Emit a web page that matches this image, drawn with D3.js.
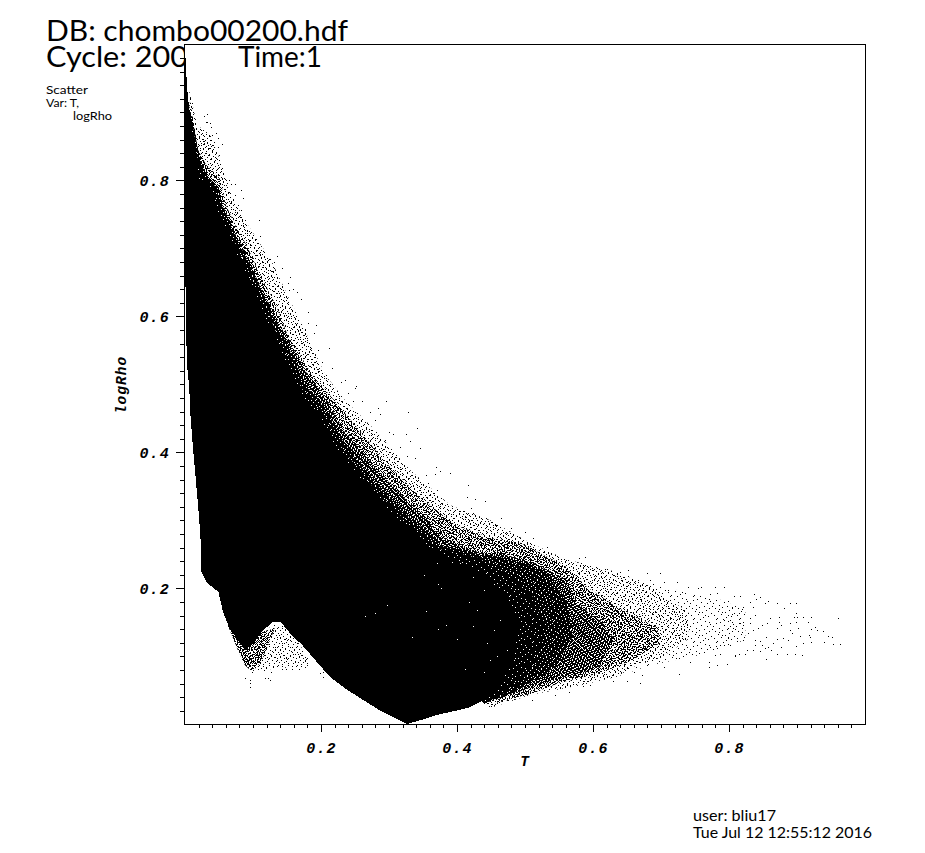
<!DOCTYPE html>
<html><head><meta charset="utf-8">
<script src="https://cdn.jsdelivr.net/npm/d3@7"></script>
<style>html,body{margin:0;background:#fff}svg{display:block}</style>
</head><body><div id="c"></div>
<script>
// Values. The millions of original particles cannot be read one by one:
// the cloud is kept as outlines of its density zones, plus the individually visible points.
const titleLines = ["DB: chombo00200.hdf", "Cycle: 200"];
const timeLabel = "Time:1";
const infoLines = ["Scatter", "Var: T,", "logRho"];
const footerLines = ["user: bliu17", "Tue Jul 12 12:55:12 2016"];
const xName = "T", yName = "logRho";
const majorTicks = [0.2, 0.4, 0.6, 0.8];
const minorTicks = [.02,.04,.06,.08,.1,.12,.14,.16,.18,.22,.24,.26,.28,.3,.32,.34,.36,.38,.42,.44,.46,.48,.5,.52,.54,.56,.58,.62,.64,.66,.68,.7,.72,.74,.76,.78,.82,.84,.86,.88,.9,.92,.94,.96,.98];

// Solid core of the cloud: [T, logRho]
const coreOutline = [[0,.9975],[.0015,.962],[.004,.925],[.007,.899],[.01,.87],[.015,.834],[.019,.8],[.041,.786],[.047,.756],[.062,.727],[.076,.693],[.096,.653],[.115,.605],[.128,.58],[.169,.487],[.199,.452],[.218,.414],[.268,.349],[.316,.3],[.365,.256],[.415,.235],[.45,.215],[.475,.185],[.49,.15],[.485,.1],[.47,.07],[.455,.05],[.434,.033],[.419,.025],[.39,.018],[.375,.015],[.346,.006],[.326,.0004],[.309,.009],[.284,.022],[.257,.039],[.235,.053],[.213,.07],[.191,.095],[.172,.117],[.157,.131],[.141,.15],[.128,.15],[.113,.136],[.099,.117],[.088,.109],[.078,.124],[.065,.142],[.056,.165],[.049,.195],[.032,.208],[.024,.224],[.024,.256],[.021,.3],[.016,.359],[.012,.403],[.008,.455],[.006,.499],[.003,.528],[.002,.565],[.0015,.639],[0,.646]];
// Solid apart from occasional gaps
const deepOutline = [[.008,.9],[.013,.87],[.02,.825],[.045,.79],[.052,.758],[.066,.728],[.08,.694],[.1,.654],[.12,.607],[.133,.58],[.174,.49],[.204,.455],[.223,.417],[.273,.352],[.322,.302],[.372,.258],[.43,.245],[.47,.225],[.51,.19],[.53,.14],[.515,.09],[.49,.06],[.46,.04],[.44,.03],[.169,.33],[.01,.5]];
// Nearly solid zone
const heavyOutline = [[.01,.9],[.018,.85],[.03,.81],[.05,.79],[.056,.76],[.07,.73],[.085,.695],[.105,.655],[.125,.61],[.14,.58],[.18,.495],[.21,.46],[.23,.42],[.28,.355],[.33,.305],[.38,.262],[.43,.25],[.47,.245],[.53,.225],[.56,.18],[.57,.13],[.545,.085],[.51,.062],[.47,.04],[.169,.33],[.01,.5]];
// Heavily speckled zone
const denseOutline = [[.004,.918],[.01,.886],[.016,.852],[.026,.812],[.041,.796],[.054,.771],[.063,.739],[.081,.708],[.099,.671],[.119,.627],[.14,.587],[.176,.521],[.206,.48],[.235,.43],[.284,.374],[.331,.323],[.382,.271],[.434,.252],[.463,.252],[.512,.237],[.562,.212],[.576,.178],[.61,.153],[.629,.128],[.61,.084],[.562,.07],[.512,.055],[.488,.046],[.449,.033],[.169,.33],[.01,.5]];
// Medium speckle
const mediumOutline = [[.007,.918],[.013,.881],[.019,.845],[.031,.823],[.051,.803],[.06,.764],[.074,.734],[.093,.7],[.11,.661],[.132,.62],[.151,.572],[.187,.514],[.213,.484],[.246,.445],[.294,.386],[.346,.334],[.397,.293],[.449,.274],[.493,.267],[.562,.231],[.591,.202],[.635,.172],[.694,.143],[.699,.12],[.659,.095],[.61,.075],[.551,.061],[.512,.046],[.456,.031],[.169,.33],[.01,.5]];
// Light speckle
const lightOutline = [[.006,.933],[.018,.881],[.037,.867],[.054,.823],[.069,.778],[.088,.741],[.107,.712],[.128,.68],[.154,.624],[.176,.58],[.206,.514],[.235,.477],[.279,.433],[.331,.374],[.39,.322],[.449,.3],[.507,.267],[.562,.242],[.625,.227],[.68,.205],[.74,.165],[.74,.125],[.7,.098],[.66,.085],[.635,.07],[.585,.058],[.507,.043],[.449,.024],[.169,.33],[.01,.5]];
// Faint speckle, reaching into the tail
const faintOutline = [[.006,.933],[.018,.881],[.037,.867],[.054,.823],[.069,.778],[.088,.741],[.107,.712],[.128,.68],[.154,.624],[.176,.58],[.206,.514],[.235,.477],[.279,.433],[.331,.374],[.39,.322],[.449,.3],[.507,.267],[.562,.242],[.625,.227],[.703,.202],[.787,.183],[.824,.168],[.824,.124],[.757,.102],[.684,.087],[.635,.07],[.585,.058],[.507,.043],[.449,.024],[.169,.33],[.01,.5]];
// Speckled lobe below the core and the sparse notch next to it
const lobeOutline = [[.063,.145],[.078,.109],[.088,.087],[.099,.077],[.113,.094],[.122,.116],[.132,.141],[.113,.136]];
const notchOutline = [[.113,.13],[.103,.087],[.113,.077],[.132,.083],[.169,.083],[.187,.087],[.169,.117],[.147,.146],[.128,.146]];

const tailPoints = [[.961,.156],[.951,.129],[.953,.118],[.963,.118],[.946,.13],[.938,.137],[.926,.143],[.92,.14],[.921,.158],[.909,.158],[.899,.163],[.895,.158],[.9,.158],[.889,.179],[.898,.178],[.881,.171],[.871,.178],[.853,.179],[.857,.181],[.846,.187],[.837,.192],[.84,.185],[.816,.189],[.831,.18],[.821,.173],[.835,.173],[.838,.161],[.831,.156],[.816,.149],[.814,.163],[.804,.162],[.805,.173],[.799,.181],[.807,.189],[.792,.202],[.779,.202],[.782,.193],[.772,.191],[.759,.202],[.873,.158],[.873,.151],[.86,.156],[.856,.149],[.87,.141],[.877,.146],[.889,.149],[.899,.15],[.916,.15],[.892,.134],[.887,.124],[.88,.127],[.87,.126],[.855,.129],[.849,.146],[.843,.141],[.828,.134],[.836,.139],[.831,.149],[.821,.146],[.806,.141],[.799,.141],[.792,.153],[.801,.153],[.812,.123],[.821,.124],[.838,.124],[.846,.123],[.848,.117],[.838,.117],[.858,.114],[.865,.119],[.862,.109],[.853,.112],[.846,.108],[.836,.109],[.827,.11],[.823,.103],[.814,.103],[.809,.101],[.797,.088],[.855,.096],[.87,.103],[.885,.104],[.897,.103],[.908,.102],[.898,.115],[.909,.119],[.921,.121],[.939,.121],[.904,.13],[.917,.131],[.929,.139],[.902,.141],[.889,.139],[.919,.129],[.877,.114],[.787,.104],[.779,.102],[.792,.117],[.801,.117],[.782,.112],[.799,.129],[.789,.139]];
const lobePoints = [[.069,.139],[.073,.129],[.077,.119],[.081,.112],[.083,.102],[.088,.099],[.093,.09],[.095,.082],[.103,.087],[.108,.082],[.11,.09],[.098,.077],[.088,.068],[.095,.065],[.095,.055],[.095,.06],[.118,.102],[.11,.109],[.105,.099],[.118,.112],[.122,.124],[.115,.124],[.125,.139],[.135,.129],[.142,.119],[.132,.114],[.14,.109],[.125,.104],[.132,.099],[.145,.102],[.154,.114],[.159,.104],[.164,.119],[.171,.102],[.176,.095],[.176,.085],[.167,.082],[.157,.082],[.149,.082],[.142,.082],[.135,.095],[.13,.085],[.127,.077],[.125,.065],[.118,.068],[.122,.068],[.149,.097],[.162,.092],[.154,.124],[.147,.126],[.095,.124],[.091,.114],[.1,.104],[.088,.107],[.078,.126],[.083,.119],[.203,.077],[.198,.075],[.203,.069],[.206,.082],[.095,.097],[.1,.097],[.105,.104]];
const upperPoints = [[.032,.898],[.028,.895],[.033,.886],[.037,.884],[.031,.885],[.024,.874],[.027,.867],[.038,.879],[.039,.867],[.046,.869],[.049,.862],[.042,.857],[.029,.859],[.02,.852],[.027,.854],[.034,.847],[.042,.849],[.048,.849],[.055,.853],[.011,.913],[.009,.908],[.008,.898],[.05,.837],[.044,.83],[.049,.818],[.054,.818],[.056,.81],[.064,.8],[.068,.795],[.073,.795],[.082,.786],[.066,.781],[.073,.778],[.086,.774],[.061,.766],[.068,.766],[.078,.764],[.073,.754],[.083,.756],[.081,.746],[.109,.742],[.088,.742],[.086,.734],[.091,.722],[.1,.72],[.11,.718],[.104,.713],[.096,.707],[.103,.69],[.11,.695],[.135,.689],[.125,.684],[.131,.68],[.115,.68],[.11,.678],[.142,.671],[.13,.666],[.135,.658],[.154,.658],[.152,.649],[.159,.64],[.165,.636],[.153,.639],[.17,.625],[.181,.607],[.162,.597],[.193,.587],[.176,.582],[.169,.582],
 [.181,.59],[.176,.58],[.189,.575],[.176,.563],[.212,.553],[.196,.55],[.186,.55],[.191,.543],[.201,.533],[.216,.524],[.208,.514],[.235,.506],[.23,.504],[.252,.498],[.25,.494],[.24,.487],[.247,.475],[.26,.476],[.296,.476],[.284,.465],[.328,.459],[.272,.46],[.287,.456],[.279,.448],[.341,.435],[.274,.433],[.3,.43],[.306,.427],[.325,.427],[.294,.418],[.331,.416],[.345,.406],[.316,.408],[.338,.391],[.326,.394],[.369,.378],[.375,.372],[.389,.369],[.367,.368],[.355,.367],[.358,.355],[.416,.352],[.37,.345],[.414,.335],[.426,.331],[.441,.329],[.421,.318],[.424,.31],[.409,.313],[.465,.303],[.443,.303],[.456,.293],[.48,.288],[.5,.283],[.512,.274],[.532,.261],[.507,.266],[.519,.254],[.473,.281]];
const edgePoints = [[.588,.246],[.579,.244],[.586,.234],[.601,.229],[.62,.229],[.64,.224],[.652,.227],[.679,.222],[.699,.222],[.684,.212],[.704,.21],[.723,.21],[.711,.197],[.74,.202],[.755,.2],[.672,.205],[.66,.21],[.726,.074],[.669,.06],[.65,.063],[.63,.064],[.672,.072],[.66,.077],[.596,.058],[.586,.057],[.564,.047],[.544,.043],[.51,.036],[.704,.085],[.743,.092],[.77,.085],[.782,.087],[.797,.088],[.809,.102],[.814,.104],[.77,.092]];
// Gaps visible inside the solid core
const corePinholes = [[.297,.175],[.28,.163],[.264,.159],[.355,.166],[.372,.14],[.384,.146],[.334,.128],[.352,.22],[.37,.237],[.372,.207],[.377,.2],[.412,.082],[.439,.077],[.417,.18],[.4,.126],[.424,.144],[.454,.139],[.429,.168],[.444,.119],[.459,.1],[.463,.153],[.405,.237],[.424,.217],[.392,.239],[.449,.095],[.473,.109],[.439,.197],[.454,.207]];

// Style: fixed stipple tiles that stand for the density of the speckled zones
const stipple = [
 {id:"a", period:19, dots:[[0,2],[0,3],[1,11],[1,15],[2,7],[3,0],[3,12],[3,17],[4,4],[5,9],[5,10],[6,14],[7,1],[7,6],[8,17],[8,11],[9,3],[9,4],[10,8],[10,15],[11,12],[12,0],[12,6],[13,16],[14,3],[14,10],[14,11],[15,14],[15,7],[16,1],[16,18],[17,5],[17,9],[18,12],[18,16],[2,13],[6,5],[11,1],[13,8]]},
 {id:"b", period:13, dots:[[0,1],[0,6],[0,10],[1,4],[1,12],[2,8],[3,2],[3,6],[4,10],[4,12],[5,0],[5,4],[6,7],[7,2],[7,11],[8,5],[8,9],[9,0],[10,3],[10,7],[10,12],[11,1],[11,9],[12,5],[12,11]]},
 {id:"c", period:11, dots:[[0,2],[0,8],[1,5],[2,0],[2,9],[3,3],[4,6],[5,1],[5,10],[6,4],[6,8],[7,0],[8,3],[8,6],[9,9],[9,1],[10,5],[4,10]]},
 {id:"d", period:7, dots:[[0,3],[1,0],[2,5],[3,2],[4,6],[5,1],[6,4]]},
 {id:"e", period:9, dots:[[0,1],[0,6],[1,4],[2,8],[3,1],[3,5],[4,7],[5,3],[6,0],[6,8],[7,5],[8,2]]},
 {id:"f", period:23, dots:[[0,5],[1,17],[2,10],[3,2],[4,20],[5,13],[6,7],[7,1],[8,16],[9,9],[10,21],[11,4],[12,14],[13,19],[14,8],[15,0],[16,12],[17,5],[18,18],[19,10],[20,3],[21,15],[22,8],[3,21],[9,14],[15,17],[19,1],[6,11]]}
];

const W = 925, H = 853;
const svg = d3.select("#c").append("svg").attr("width", W).attr("height", H);
const x = d3.scaleLinear().domain([0, 1]).range([185, 865]);
const y = d3.scaleLinear().domain([0, 1]).range([724.3, 44.3]);
const sans = "Lato, 'Liberation Sans', Arial, sans-serif";
const mono = "'Liberation Mono', monospace";

const defs = svg.append("defs");
[["k", "#000"], ["w", "#fff"]].forEach(([suffix, colour]) => stipple.forEach(s => {
  const p = defs.append("pattern").attr("id", `st-${s.id}-${suffix}`).attr("patternUnits", "userSpaceOnUse")
    .attr("width", s.period).attr("height", s.period);
  p.selectAll("rect").data(s.dots).join("rect").attr("x", d => d[0]).attr("y", d => d[1])
    .attr("width", 1).attr("height", 1).attr("fill", colour).attr("shape-rendering", "crispEdges");
}));

function label(t, px, py, size, opts = {}) {
  const n = svg.append("text").attr("x", px).attr("y", py).attr("font-family", sans).attr("font-weight", opts.weight || 300)
    .attr("font-size", size).attr("fill", "#000").text(t);
  if (opts.len) n.attr("textLength", opts.len).attr("lengthAdjust", "spacingAndGlyphs");
  return n;
}
label(titleLines[0], 46, 41, 28, {len: 302, weight: 400});
label(titleLines[1], 46, 67, 28, {len: 142, weight: 400});
label(infoLines[0], 46, 94, 12, {len: 42, weight: 400});
label(infoLines[1], 46, 107, 12, {len: 33, weight: 400});
label(infoLines[2], 73, 120, 12, {len: 39, weight: 400});
label(footerLines[0], 693, 821, 16, {len: 83, weight: 400});
label(footerLines[1], 693, 838, 16, {len: 179, weight: 400});

// plot area hides the part of the title running under it
svg.append("rect").attr("x", x(0)).attr("y", y(1)).attr("width", x(1) - x(0)).attr("height", y(0) - y(1)).attr("fill", "#fff");

const line = d3.line().x(d => x(d[0])).y(d => y(d[1])).curve(d3.curveLinearClosed);
function zone(outline, ids, suffix = "k") {
  ids.forEach(id => svg.append("path").attr("d", line(outline)).attr("fill", `url(#st-${id}-${suffix})`));
}
function solid(outline) {
  svg.append("path").attr("d", line(outline)).attr("fill", "#000").attr("shape-rendering", "crispEdges");
}
zone(faintOutline, ["f"]);
zone(lightOutline, ["a"]);
zone(mediumOutline, ["b", "c", "e"]);
solid(denseOutline);
zone(denseOutline, ["e", "d"], "w");
solid(heavyOutline);
zone(heavyOutline, ["a"], "w");
solid(deepOutline);
zone(deepOutline, ["f"], "w");
zone(lobeOutline, ["a", "b", "c", "d", "e"]);
zone(notchOutline, ["a"]);
solid(coreOutline);

function dots(data, fill) {
  svg.append("g").selectAll("rect").data(data).join("rect")
    .attr("x", d => Math.round(x(d[0]))).attr("y", d => Math.round(y(d[1])))
    .attr("width", 1).attr("height", 1).attr("fill", fill).attr("shape-rendering", "crispEdges");
}
dots(tailPoints, "#000");
dots(lobePoints, "#000");
dots(upperPoints, "#000");
dots(edgePoints, "#000");
dots(corePinholes, "#fff");

// frame
svg.append("rect").attr("x", x(0) - 0.5).attr("y", y(1) + 0.2).attr("width", x(1) - x(0) + 1).attr("height", y(0) - y(1))
  .attr("fill", "none").attr("stroke", "#000").attr("stroke-width", 1).attr("shape-rendering", "crispEdges");

function axisStyle(g) {
  g.select(".domain").remove();
  g.selectAll(".tick line").attr("stroke", "#000").attr("shape-rendering", "crispEdges");
  g.selectAll("text").attr("font-family", mono).attr("font-weight", "bold").attr("font-style", "italic")
    .attr("font-size", 15).attr("letter-spacing", 1.2).attr("fill", "#000");
}
const bottomY = 724;
svg.append("g").attr("transform", `translate(0,${bottomY})`)
  .call(d3.axisBottom(x).tickValues(minorTicks).tickSize(4).tickFormat("")).call(axisStyle);
svg.append("g").attr("transform", `translate(0,${bottomY})`)
  .call(d3.axisBottom(x).tickValues(majorTicks).tickSize(8).tickPadding(10).tickFormat(d3.format(".1f"))).call(axisStyle);
svg.append("g").attr("transform", `translate(184,0)`)
  .call(d3.axisLeft(y).tickValues(minorTicks).tickSize(4).tickFormat("")).call(axisStyle);
svg.append("g").attr("transform", `translate(184,0)`)
  .call(d3.axisLeft(y).tickValues(majorTicks).tickSize(8).tickPadding(6).tickFormat(d3.format(".1f"))).call(axisStyle);

function axisTitle(t, tr) {
  svg.append("text").attr("transform", tr).attr("text-anchor", "middle").attr("font-family", mono)
    .attr("font-weight", "bold").attr("font-style", "italic").attr("font-size", 14.5).attr("letter-spacing", 1)
    .attr("fill", "#000").text(t);
}
axisTitle(xName, "translate(525,766)");
axisTitle(yName, "translate(126,385) rotate(-90)");

label(timeLabel, 238, 67, 28, {len: 84, weight: 400});
</script></body></html>
